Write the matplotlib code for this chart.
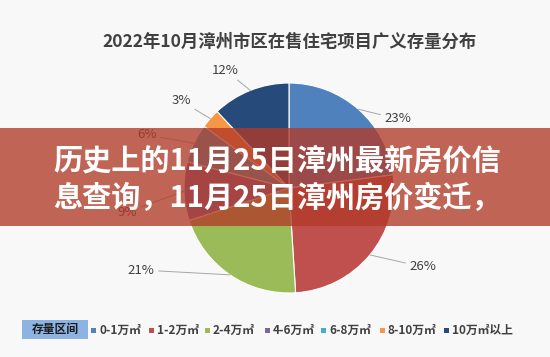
import numpy as np
import matplotlib
matplotlib.use('Agg')
import matplotlib.pyplot as plt
from matplotlib.patches import Rectangle

plt.rcParams['font.family'] = ['Noto Sans CJK SC', 'DejaVu Sans']

# ── DATA ────────────────────────────────────────────────────────────────
title_text = '2022年10月漳州市区在售住宅项目广义存量分布'
ranges  = ['0-1万㎡', '1-2万㎡', '2-4万㎡', '4-6万㎡', '6-8万㎡', '8-10万㎡', '10万㎡以上']
shares  = [23, 26, 21, 9, 6, 3, 12]
colors  = ['#4F81BD', '#C0504D', '#9BBB59', '#8064A2', '#4BACC6', '#F79646', '#264B7A']
banner_lines = ['历史上的11月25日漳州最新房价信', '息查询，11月25日漳州房价变迁，']

# label spots (pixel coords, top-down)
label_pos = [(398, 119), (423, 267), (141, 270), (127, 212), (147, 135), (181, 101), (225, 70)]

W, H = 550, 357
BG = '#f8f8f8'
CX, CY, R = 289, 188, 105

fig = plt.figure(figsize=(W / 100, H / 100), dpi=100, facecolor=BG)
ax = fig.add_axes([0, 0, 1, 1])
ax.set_facecolor(BG)

def py(y):
    return H - y

wedges, _ = ax.pie(shares, colors=colors, startangle=90, counterclock=False,
                   center=(CX, py(CY)), radius=R,
                   wedgeprops={'edgecolor': 'white', 'linewidth': 0.8})
ax.set_xlim(0, W); ax.set_ylim(0, H)
ax.set_aspect('auto')
ax.axis('off')

# percentage labels with leader lines
for w, v, (lx, ly) in zip(wedges, shares, label_pos):
    ang = np.deg2rad((w.theta1 + w.theta2) / 2)
    ex, ey = CX + R * np.cos(ang), py(CY) + R * np.sin(ang)
    ax.annotate(f'{v}%', xy=(ex, ey), xytext=(lx, py(ly)),
                ha='center', va='center', fontsize=9.5, color='#404040',
                arrowprops=dict(arrowstyle='-', color='#a6a6a6', lw=0.7,
                                shrinkA=1, shrinkB=0), zorder=3)

# title
ax.text(290, py(42), title_text, ha='center', va='center', fontsize=12.5,
        fontweight='bold', color='#404040')

# legend
ax.add_patch(Rectangle((22, py(339)), 66, 19, facecolor='#8DB3E2', edgecolor='none'))
ax.text(55, py(329.5), '存量区间', ha='center', va='center', fontsize=8.5,
        fontweight='bold', color='#1a1a1a')
leg_x = [91, 149, 205, 265, 321, 380, 444]
for x, c, lab in zip(leg_x, colors, ranges):
    ax.add_patch(Rectangle((x, py(332.5)), 5, 5, facecolor=c, edgecolor='none'))
    ax.text(x + 8, py(330), lab, ha='left', va='center', fontsize=8.5,
            fontweight='bold', color='#404040')

# overlay banner
ax.add_patch(Rectangle((0, py(226)), W, 98, facecolor='#B13A28', alpha=0.78,
                       edgecolor='none', zorder=5))
for i, line in enumerate(banner_lines):
    ax.text(W / 2 + 2, py(160 + 38 * i), line, ha='center', va='center',
            fontsize=21, fontweight='bold', color='white', zorder=6)

fig.savefig('out.png', dpi=100, facecolor=BG)
